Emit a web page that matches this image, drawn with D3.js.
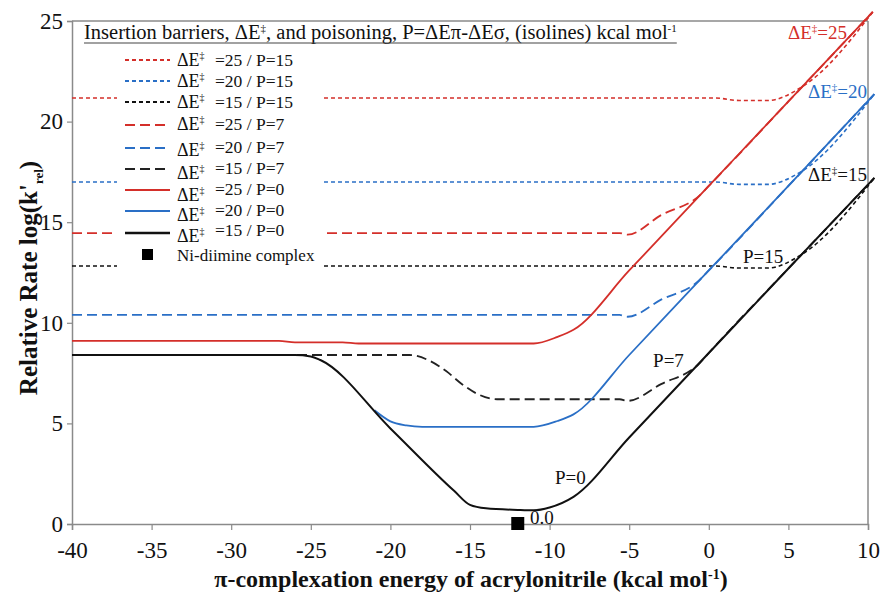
<!DOCTYPE html>
<html><head><meta charset="utf-8">
<script src="https://cdn.jsdelivr.net/npm/d3@7"></script>
<style>
html,body{margin:0;padding:0;background:#fff;}
text{font-family:"Liberation Serif","Times New Roman",serif;}
</style></head>
<body>
<svg id="chart" width="881" height="593"></svg>
<script>
// ---------- DATA ----------
const xTicks = [-40,-35,-30,-25,-20,-15,-10,-5,0,5,10];
const yTicks = [0,5,10,15,20,25];

const redP15   = [[-40,21.17],[0.4,21.17],[1.9,21.05],[3.7,21.05],[5.9,21.75],[10.3,25.45]];
const blueP15  = [[-40,17.0],[0.4,17.0],[1.9,16.88],[3.7,16.88],[5.75,17.49],[10.4,21.37]];
const blackP15 = [[-40,12.82],[0.4,12.82],[1.9,12.72],[3.7,12.72],[5.9,13.43],[10.4,17.2]];

const redP7   = [[-40,14.46],[-5.6,14.46],[-5.1,14.38],[-3,15.35],[-0.55,16.35],[0,16.8],[5,21.0],[10.3,25.45]];
const blueP7  = [[-40,10.39],[-5.6,10.39],[-5.1,10.3],[-3,11.15],[-0.7,12.04],[0,12.6],[5,16.8],[10.4,21.37]];
const blackP7 = [[-40,8.4],[-18.8,8.4],[-17.5,8.1],[-16.5,7.6],[-15.5,6.95],[-14.5,6.45],[-13.3,6.2],[-5.6,6.2],[-5.1,6.12],[-3,6.95],[-0.6,7.97],[0,8.5],[5,12.7],[10.4,17.2]];

const redP0   = [[-40,9.1],[-27,9.1],[-26,9.03],[-23,9.03],[-22,8.97],[-11,8.97],[-9.5,9.3],[-8.5,9.65],[-5,12.6],[0,16.8],[5,21.0],[10.3,25.45]];
const blueP0  = [[-21,5.65],[-20,5.1],[-19,4.9],[-18,4.83],[-11,4.83],[-9.5,5.12],[-8.5,5.45],[-5,8.4],[0,12.6],[5,16.8],[10.4,21.37]];
const blackP0 = [[-40,8.4],[-26,8.4],[-25,8.33],[-24.4,8.15],[-20,4.75],[-16,1.65],[-15,0.95],[-14,0.78],[-12,0.7],[-11,0.68],[-10,0.82],[-8.5,1.35],[-5,4.3],[0,8.5],[5,12.7],[10.4,17.2]];

const niComplex = [[-12,0]];

const seriesNames = ["=25 / P=15","=20 / P=15","=15 / P=15","=25 / P=7","=20 / P=7","=15 / P=7","=25 / P=0","=20 / P=0","=15 / P=0"];
const seriesData  = [redP15,blueP15,blackP15,redP7,blueP7,blackP7,redP0,blueP0,blackP0];

// ---------- STYLE ----------
const RED="#d42f2a", BLUE="#2a6fc6", BLACK="#111";
const seriesStyle = [
  {c:RED, dash:"4,3", w:1.6},{c:BLUE, dash:"4,3", w:1.6},{c:BLACK, dash:"4,3", w:1.6},
  {c:RED, dash:"10,5", w:1.8},{c:BLUE, dash:"10,5", w:1.8},{c:"#222", dash:"10,5", w:1.8},
  {c:RED, dash:null, w:1.8},{c:BLUE, dash:null, w:1.8},{c:BLACK, dash:null, w:2}
];
const legendDeltaOffset = [0,0,0,0,3,5,6,5,6];

const svg = d3.select("#chart");
svg.append("rect").attr("width",881).attr("height",593).attr("fill","#fff");

const x = d3.scaleLinear().domain([-40,10]).range([72,868]);
const y = d3.scaleLinear().domain([0,25]).range([524,21]);
const AX="#8a8a8a";

// frame
svg.append("line").attr("x1",x(-40)).attr("x2",x(10)).attr("y1",y(25)).attr("y2",y(25)).attr("stroke",AX).attr("stroke-width",1.5);
svg.append("line").attr("x1",x(10)).attr("x2",x(10)).attr("y1",y(25)).attr("y2",y(0)).attr("stroke",AX).attr("stroke-width",1.5);

const xAxis = svg.append("g").attr("transform",`translate(0,${y(0)})`)
  .call(d3.axisBottom(x).tickValues(xTicks).tickSize(6).tickPadding(12).tickFormat(d3.format("d")));
const yAxis = svg.append("g").attr("transform",`translate(${x(-40)},0)`)
  .call(d3.axisLeft(y).tickValues(yTicks).tickSize(5).tickPadding(4).tickFormat(d3.format("d")));
[xAxis,yAxis].forEach(g=>{
  g.attr("font-family",null).attr("font-size",null);
  g.select(".domain").attr("stroke",AX).attr("stroke-width",1.5);
  g.selectAll(".tick line").attr("stroke",AX).attr("stroke-width",1.2);
  g.selectAll(".tick text").attr("fill","#111").style("font-size","23px").style("font-family","'Liberation Serif'");
});
xAxis.selectAll(".tick text").text(d=> d<0 ? "-"+Math.abs(d) : d);

// lines
const line = d3.line().x(d=>x(d[0])).y(d=>y(d[1])).curve(d3.curveMonotoneX);
seriesData.forEach((s,i)=>{
  const st=seriesStyle[i];
  svg.append("path").datum(s).attr("d",line).attr("fill","none")
    .attr("stroke",st.c).attr("stroke-width",st.w)
    .attr("stroke-dasharray",st.dash).attr("stroke-linejoin","round");
});

// Ni-diimine complex marker
svg.selectAll("rect.ni").data(niComplex).enter().append("rect").attr("class","ni")
  .attr("x",d=>x(d[0])-6.5).attr("y",d=>y(d[1])-7).attr("width",13).attr("height",13).attr("fill","#000");

// annotations
const ann = [
  {t:"ΔE", sup:"‡", rest:"=25", c:RED, x:4.97, y:24.1},
  {t:"ΔE", sup:"‡", rest:"=20", c:BLUE, x:6.23, y:21.17},
  {t:"ΔE", sup:"‡", rest:"=15", c:BLACK, x:6.23, y:17.05},
  {t:"P=15", c:BLACK, x:2.15, y:12.97},
  {t:"P=7", c:BLACK, x:-3.5, y:7.8},
  {t:"P=0", c:BLACK, x:-9.66, y:1.99},
  {t:"0.0", c:BLACK, x:-11.23, y:0.0}
];
ann.forEach(a=>{
  const t=svg.append("text").attr("x",x(a.x)).attr("y",y(a.y)).attr("fill",a.c).style("font-size","19px");
  t.append("tspan").text(a.t);
  if(a.sup){ t.append("tspan").attr("dy",-7).style("font-size","11px").text(a.sup);
             t.append("tspan").attr("dy",7).text(a.rest); }
});

// legend
svg.append("rect").attr("x",117).attr("y",47).attr("width",206).attr("height",226).attr("fill","#fff");
const title = svg.append("text").attr("x",84).attr("y",39).attr("fill","#111").style("font-size","20.5px");
title.append("tspan").text("Insertion barriers, ΔE");
title.append("tspan").attr("dy",-7).style("font-size","11px").text("‡");
title.append("tspan").attr("dy",7).text(", and poisoning, P=ΔEπ-ΔEσ, (isolines) kcal mol");
title.append("tspan").attr("dy",-7).style("font-size","11px").text("-1");
const tw = title.node().getBBox();
svg.append("line").attr("x1",tw.x).attr("x2",tw.x+tw.width).attr("y1",43).attr("y2",43).attr("stroke","#444").attr("stroke-width",1.2);

const rowY = [60,81,102,124,147,168,189,210,230];
const lineY = [60,81,102,125,148,169,190,211,233];
seriesNames.forEach((n,i)=>{
  const st=seriesStyle[i];
  svg.append("line").attr("x1",125).attr("x2",170).attr("y1",lineY[i]).attr("y2",lineY[i])
    .attr("stroke",st.c).attr("stroke-width",st.w+0.3).attr("stroke-dasharray",st.dash);
  const d = svg.append("text").attr("x",177).attr("y",rowY[i]+6+legendDeltaOffset[i]).attr("fill","#111").style("font-size","18px");
  d.append("tspan").text("ΔE");
  d.append("tspan").attr("dy",-7).style("font-size","10px").text("‡");
  svg.append("text").attr("x",215).attr("y",rowY[i]+6).attr("fill","#111").style("font-size","17.5px").text(n);
});
svg.append("rect").attr("x",142).attr("y",249).attr("width",11).attr("height",11).attr("fill","#000");
svg.append("text").attr("x",177).attr("y",261).attr("fill","#111").style("font-size","17px").text("Ni-diimine complex");

// axis titles
const xt = svg.append("text").attr("x",471).attr("y",587).attr("text-anchor","middle")
  .style("font-size","24px").style("font-weight","bold").attr("fill","#111");
xt.append("tspan").text("π-complexation energy of acrylonitrile (kcal mol");
xt.append("tspan").attr("dy",-8).style("font-size","14px").text("-1");
xt.append("tspan").attr("dy",8).text(")");

const yt = svg.append("text").attr("transform","translate(37,278) rotate(-90)").attr("text-anchor","middle")
  .style("font-size","25px").style("font-weight","bold").attr("fill","#111");
yt.append("tspan").text("Relative Rate log(k'");
yt.append("tspan").attr("dy",6).style("font-size","13px").text("rel");
yt.append("tspan").attr("dy",-6).text(")");
</script>
</body></html>
